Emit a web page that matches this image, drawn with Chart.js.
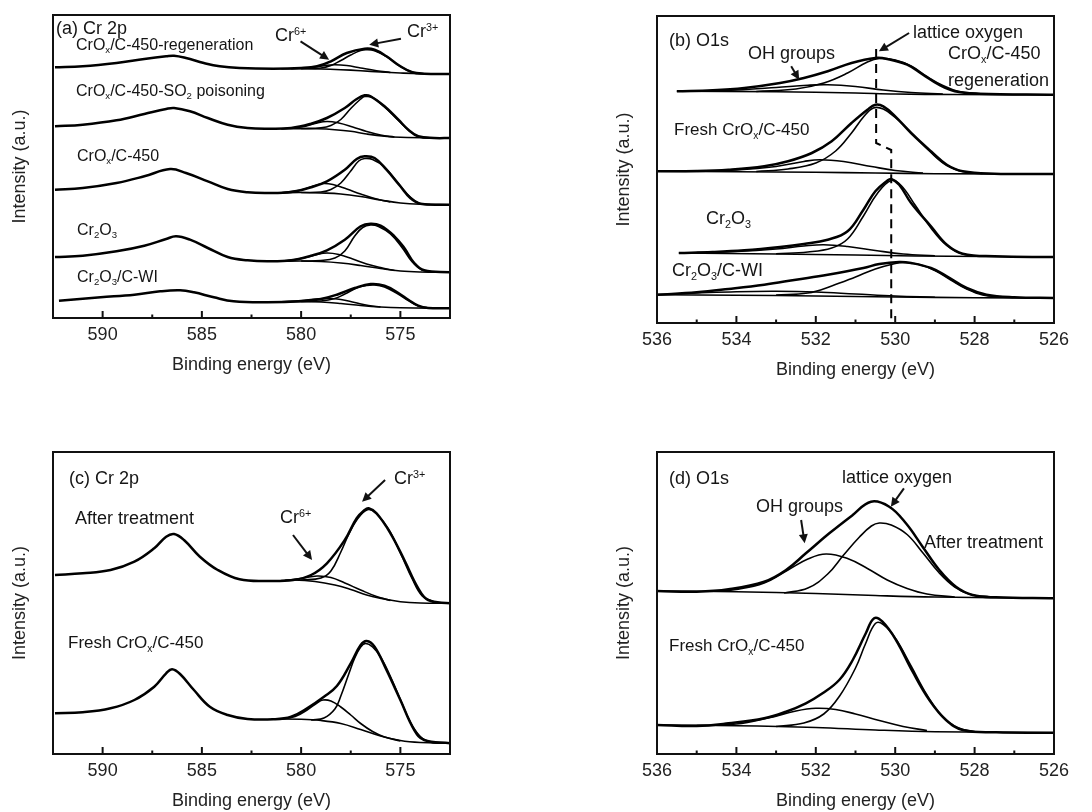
<!DOCTYPE html>
<html>
<head>
<meta charset="utf-8">
<script src="https://cdn.jsdelivr.net/npm/chart.js@4/dist/chart.umd.min.js"></script>
<style>
  body { margin: 0; background: #fff; }
  #page { position: relative; width: 1092px; height: 812px; overflow: hidden; }
  .panel { position: absolute; }
  .lab { position: absolute; font-family: "Liberation Sans", Arial, sans-serif; font-size: 18px; line-height: 1; color: #151515; white-space: nowrap; }
  .s16 { font-size: 16px; }
  .s17 { font-size: 17px; }
  .lab sub { font-size: 0.6em; vertical-align: -0.35em; line-height: 0; }
  .lab sup { font-size: 0.6em; vertical-align: 0.6em; line-height: 0; }
</style>
</head>
<body>
<div id="page">
  <div class="panel" style="left:0;top:0;width:546px;height:400px"><canvas id="chartA"></canvas></div>
  <div class="panel" style="left:546px;top:0;width:546px;height:400px"><canvas id="chartB"></canvas></div>
  <div class="panel" style="left:0;top:400px;width:546px;height:412px"><canvas id="chartC"></canvas></div>
  <div class="panel" style="left:546px;top:400px;width:546px;height:412px"><canvas id="chartD"></canvas></div>

  <!-- (a) -->
  <div class="lab" style="left:56px;top:19px">(a) Cr 2p</div>
  <div class="lab s16" style="left:76px;top:37px">CrO<sub>x</sub>/C-450-regeneration</div>
  <div class="lab" style="left:275px;top:26px">Cr<sup>6+</sup></div>
  <div class="lab" style="left:407px;top:22px">Cr<sup>3+</sup></div>
  <div class="lab s16" style="left:76px;top:83px">CrO<sub>x</sub>/C-450-SO<sub>2</sub> poisoning</div>
  <div class="lab s16" style="left:77px;top:148px">CrO<sub>x</sub>/C-450</div>
  <div class="lab s16" style="left:77px;top:222px">Cr<sub>2</sub>O<sub>3</sub></div>
  <div class="lab s16" style="left:77px;top:269px">Cr<sub>2</sub>O<sub>3</sub>/C-WI</div>

  <!-- (b) -->
  <div class="lab" style="left:669px;top:31px">(b) O1s</div>
  <div class="lab" style="left:748px;top:44px">OH groups</div>
  <div class="lab" style="left:913px;top:23px">lattice oxygen</div>
  <div class="lab" style="left:948px;top:44px">CrO<sub>x</sub>/C-450</div>
  <div class="lab" style="left:948px;top:71px">regeneration</div>
  <div class="lab s17" style="left:674px;top:121px">Fresh CrO<sub>x</sub>/C-450</div>
  <div class="lab" style="left:706px;top:209px">Cr<sub>2</sub>O<sub>3</sub></div>
  <div class="lab" style="left:672px;top:261px">Cr<sub>2</sub>O<sub>3</sub>/C-WI</div>

  <!-- (c) -->
  <div class="lab" style="left:69px;top:469px">(c) Cr 2p</div>
  <div class="lab" style="left:75px;top:509px">After treatment</div>
  <div class="lab" style="left:280px;top:508px">Cr<sup>6+</sup></div>
  <div class="lab" style="left:394px;top:469px">Cr<sup>3+</sup></div>
  <div class="lab s17" style="left:68px;top:634px">Fresh CrO<sub>x</sub>/C-450</div>

  <!-- (d) -->
  <div class="lab" style="left:669px;top:469px">(d) O1s</div>
  <div class="lab" style="left:842px;top:468px">lattice oxygen</div>
  <div class="lab" style="left:756px;top:497px">OH groups</div>
  <div class="lab" style="left:924px;top:533px">After treatment</div>
  <div class="lab s17" style="left:669px;top:637px">Fresh CrO<sub>x</sub>/C-450</div>
</div>

<script>
// ---- (a) Cr 2p, five samples: [binding energy eV, intensity a.u.]
let aRegen = [[592.4,250.7],[591,251.7],[589.3,255],[587.9,259],[586.8,261.7],[586.4,262.3],[585.8,260],[584.9,255],[584.1,251.7],[583.1,250],[581.4,249.3],[580,250],[579.2,251.7],[578.5,256.7],[577.7,265],[576.8,269.3],[576.3,268.3],[575.7,261.7],[575,251.7],[574.4,245.7],[573.8,244.3],[572.5,244]];
let aRegenBg = [[581,249.3],[580,249.3],[579,249],[578,248.3],[577,247.3],[576,246],[575,245],[574,244.3],[572.5,244]];
let aRegenCr6 = [[580.5,249.3],[579.5,250.5],[578.8,252.5],[578.3,253.3],[577.7,252.5],[577,250],[576.2,247.3],[575.5,245.5]];
let aRegenCr3 = [[580,249.4],[579,250],[578.5,252.5],[578,257.5],[577.5,263],[577,267.5],[576.7,268.2],[576.3,267.2],[575.7,261.5],[575,251.5],[574.4,245.8],[573.8,244.3]];

let aPoison = [[592.4,191.7],[591,193.3],[589.3,197.7],[587.9,204],[586.8,209],[586.4,210],[585.6,206.7],[584.7,200],[583.7,193.3],[582.7,190],[581.7,189.3],[580.5,190],[579.5,194.3],[578.7,200],[577.8,210],[577.2,219],[576.8,222.7],[576.5,221.7],[575.8,211.7],[575.1,198.3],[574.6,188.3],[574.1,181.7],[573.3,180],[572.5,180]];
let aPoisonBg = [[581,189.3],[580,189.3],[579.2,189.2],[578.3,188.3],[577.5,186.7],[576.7,184],[575.8,181.7],[575,180.7],[572.5,180]];
let aPoisonCr6 = [[581,189.3],[580,191],[579.3,194.5],[578.7,196.5],[578.1,195],[577.4,191],[576.7,186.5],[576,183],[575.3,181]];
let aPoisonCr3 = [[580,189.5],[579,190.2],[578.5,192.5],[578,198.5],[577.5,209.5],[577,219],[576.8,221.5],[576.4,220.5],[575.8,211],[575.1,197.5],[574.6,188],[574.1,181.5],[573.5,180.2]];

let aFresh = [[592.4,128.3],[591,130],[589.3,135],[587.9,141.7],[586.6,149],[585.8,145],[584.7,136.7],[583.7,129],[582.7,125.7],[581.7,125],[580.5,126],[579.5,130.7],[578.7,136.7],[577.8,148.3],[577.2,159],[576.8,161.7],[576.3,160],[575.7,148.3],[575,131.7],[574.5,120],[574,114.3],[572.5,113.3]];
let aFreshBg = [[581,125.3],[580,125.5],[579,125],[578,124],[577,121.5],[576,118],[575,115],[574,113.7],[572.5,113.3]];
let aFreshCr6 = [[581,125.3],[580,128],[579.3,132.5],[578.9,134.5],[578.4,133.5],[577.7,129],[577,124],[576.2,119],[575.5,116]];
let aFreshCr3 = [[580,125.5],[579,126],[578.5,128.5],[578,135],[577.5,147],[577.1,157],[576.8,159.5],[576.4,158.5],[575.8,151],[575.1,134.5],[574.5,121],[574,114.5],[573.5,113.5]];

let aCr2O3 = [[592.4,61],[591,62.3],[589.3,66.7],[587.9,72.3],[586.8,79],[586.3,81.7],[585.6,78.3],[584.7,70],[583.7,61],[582.7,57.7],[581.7,56.7],[580.5,57.7],[579.5,62.3],[578.7,67.7],[577.8,78.3],[577,91.7],[576.5,94.3],[576,92.3],[575.3,81.7],[574.8,70],[574.3,55],[573.8,47.7],[572.5,45.7]];
let aCr2O3Bg = [[581,56.7],[580,57],[579,56.5],[578,55],[577,52.5],[576,49.5],[575,47],[574,46],[572.5,45.7]];
let aCr2O3Cr6 = [[581,56.8],[580,59.5],[579.3,63],[578.7,65],[578.1,63.5],[577.4,59],[576.7,54],[576,50.5],[575.3,47.5]];
let aCr2O3Cr3 = [[580,57],[579,57.5],[578.3,60],[577.8,67],[577.3,82],[576.9,90.5],[576.5,93],[576.1,91.5],[575.5,84],[574.9,70],[574.4,56],[573.9,48],[573.3,46]];

let aWI = [[592.2,17.3],[590.1,20.7],[588.4,23.3],[587.1,26.7],[586.1,27.7],[585.4,25.7],[584.4,20.7],[583.4,16.7],[581.7,15.7],[580,16.7],[579,19],[578.2,23.3],[577.3,30],[576.5,34],[575.8,32.3],[575.1,25],[574.6,18.3],[574.1,12.3],[573.6,10],[572.5,9.7]];
let aWIBg = [[581,16],[580,16.5],[579,16],[578,14.5],[577,12.5],[576,11],[575,10.2],[572.5,9.7]];
let aWICr6 = [[581,16.1],[580,17.5],[579.2,19],[578.6,19.5],[578,18.5],[577.3,15.5],[576.6,12.5],[576,11]];
let aWICr3 = [[580,16.5],[579,17],[578.3,19.5],[577.8,24],[577.2,30],[576.7,32.5],[576.3,33],[575.8,31],[575.2,25],[574.6,17.5],[574.1,12],[573.6,10]];

// ---- (b) O1s, four samples
let bRegen = [[535.5,231.7],[534.6,232.7],[533.8,235],[532.9,240],[532.3,245],[531.7,251.7],[531.1,260],[530.5,265],[530.2,264],[529.7,258.3],[529.3,248.3],[528.9,238.3],[528.5,231.7],[527.9,229.3],[526,228.3]];
let bRegenBg = [[535.5,231.7],[533,231.3],[531,230],[530,229],[528.5,228.5],[526,228.3]];
let bRegenOH = [[535,231.8],[534,233],[533,235.5],[532.2,237.8],[531.7,238.3],[531,236.5],[530.3,233],[529.6,230.5],[528.8,229]];
let bRegenLat = [[533.5,231.5],[532.5,234],[531.8,240],[531.2,250],[530.7,261],[530.4,264.5],[530,263],[529.6,257],[529.2,246.5],[528.8,237.5],[528.4,231.5],[527.8,229]];

let bFresh = [[536,151.7],[535,152],[534.2,153.3],[533.3,156.7],[532.7,161.7],[532.1,170],[531.6,181.7],[531.1,200],[530.7,213.3],[530.5,218.3],[530.3,216.7],[530,206.7],[529.6,190],[529.1,171.7],[528.7,158.3],[528.3,151.7],[527.5,149.3],[526,149]];
let bFreshBg = [[536,151.7],[534,151.3],[532,150.7],[530.5,150],[529,149.3],[526,149]];
let bFreshOH = [[535,152],[534,153],[533,156.5],[532.3,161.5],[531.9,163.3],[531.3,161.5],[530.6,156.5],[530,152.5],[529.3,150]];
let bFreshLat = [[533.5,151.5],[532.7,154],[532,160],[531.5,172],[531.1,190],[530.8,206],[530.55,215],[530.3,214],[530,205.5],[529.6,190.5],[529.1,170.5],[528.7,157.5],[528.3,151.5],[527.8,149.5]];

let bCr2O3 = [[535.45,70],[534.6,71],[533.8,72.7],[532.9,76],[532.3,79],[531.7,83.3],[531.2,91.7],[530.8,113.3],[530.5,131.7],[530.2,142.3],[530.1,144],[529.9,138.3],[529.6,120],[529.1,96.7],[528.7,78.3],[528.3,69.3],[527.5,66.7],[526,66]];
let bCr2O3Bg = [[535.45,70],[533,69],[531,68],[529.5,67],[526,66]];
let bCr2O3OH = [[535,70.5],[534,71.5],[533,74],[532.3,77],[531.8,78.3],[531.2,76.5],[530.5,72.5],[529.8,69],[529,67.3]];
let bCr2O3Lat = [[533,69.3],[532.2,71],[531.6,75],[531.2,84],[530.8,107],[530.45,129.5],[530.1,142.5],[529.85,137.5],[529.5,118],[529.1,95],[528.7,77.5],[528.3,69],[527.8,66.7]];

let bWI = [[536,28.3],[535,30.7],[534.2,34],[533.3,38.3],[532.5,43.3],[531.7,48.3],[530.8,55],[530.4,59],[529.9,61],[529.6,60],[529.1,55],[528.7,46.7],[528.2,35],[527.7,28.3],[527,25.7],[526,25]];
let bWIBg = [[536,28.3],[534,27.8],[532,27],[530,26],[528,25.3],[526,25]];
let bWIOH = [[536,28.5],[535,30],[534,31.3],[533,31.7],[532,31],[531,29],[530,27],[529,25.8]];
let bWILat = [[533,28],[532.2,30],[531.6,37],[531,46],[530.5,54],[530,59.5],[529.8,60.5],[529.4,58.5],[529,52.5],[528.6,43],[528.2,34],[527.8,28],[527.3,26]];

// peak position guide (dashed)
let bGuide = [[530.48,274],[530.48,180],[530.1,173],[530.1,0]];

// ---- (c) Cr 2p, after treatment vs fresh
let cAfter = [[592.4,179],[591,180.7],[589.6,184],[588.4,192.3],[587.4,205.7],[586.8,217.3],[586.4,220],[585.9,214],[585.1,197.3],[584.2,184],[583.1,174.7],[581.7,173],[580.4,174],[579.5,179],[578.7,190.7],[577.8,214],[577.2,235.7],[576.8,244],[576.6,245.7],[576.2,240.7],[575.5,220.7],[574.8,194],[574.1,165.7],[573.6,154],[572.5,150.7]];
let cAfterBg = [[581,173.5],[580.4,174],[579.3,172.5],[578.3,169],[577.5,164.5],[576.7,159],[575.8,155],[575,152.3],[574,151],[572.5,150.7]];
let cAfterCr6 = [[580.8,173.6],[580,175.5],[579.2,178],[578.5,176.5],[577.8,171],[577,164],[576.2,157.5],[575.5,153.5]];
let cAfterCr3 = [[580,174],[579,176],[578.5,183],[578,202],[577.5,224],[577,239],[576.6,244.5],[576.2,240],[575.6,225],[575,201],[574.4,175],[573.9,158],[573.3,152]];

let cFresh = [[592.4,40.7],[591,41.7],[589.6,45.7],[588.4,54],[587.4,67.3],[586.8,80.7],[586.5,84.7],[586.1,80],[585.4,64],[584.6,47.3],[583.7,39],[582.7,35],[581.4,34.7],[580.5,37.3],[579.7,45.7],[578.85,57.3],[578.2,68],[577.5,90.7],[577,109],[576.7,113],[576.3,107.3],[575.7,84],[575,54],[574.3,24],[573.8,14],[572.5,10.7]];
let cFreshBg = [[581.5,35],[580,34.7],[579,33.5],[578,30.5],[577,24.5],[576,18],[575,13.5],[574,11.5],[572.5,10.7]];
let cFreshCr6 = [[581,35],[580.3,37.5],[579.7,44],[579.2,51],[578.9,54],[578.5,53],[578,47],[577.5,39],[577,30.5],[576.4,22.5],[575.8,17],[575,13]];
let cFreshCr3 = [[579.5,34],[578.85,36],[578.3,45],[578,58],[577.6,80],[577.3,96],[577,107],[576.75,110.5],[576.4,107],[576,97],[575.5,77.5],[575,54.5],[574.5,32],[574,17.5],[573.5,12],[573,10.8]];

// ---- (d) O1s, after treatment vs fresh
let dAfter = [[536,163],[535,162.3],[534.2,164.7],[533.3,172.3],[532.75,184],[532.25,200.7],[531.66,220.7],[531.07,239],[530.61,252.3],[530.15,247.3],[529.73,230.7],[529.31,207.3],[528.89,184],[528.47,167.3],[528.05,159],[527.46,156.7],[526,155.7]];
let dAfterBg = [[536,163],[534,162.3],[532,160.5],[530.5,158.5],[529,157],[526,155.7]];
let dAfterOH = [[534.5,163],[534,164.5],[533.3,171],[532.7,184],[532.2,195],[531.74,200],[531.2,195.5],[530.7,185.5],[530.2,174],[529.7,165.5],[529.2,160],[528.5,157]];
let dAfterLat = [[532.8,161],[532.2,166],[531.7,180],[531.3,199],[530.9,217],[530.6,228],[530.4,231],[530.1,229],[529.7,219.5],[529.3,201],[528.9,181.5],[528.5,167],[528.1,159.5],[527.6,157]];

let dFresh = [[536,29],[535,28],[534.2,30.7],[533.3,35.7],[532.75,42.3],[532.25,50.7],[531.83,60.7],[531.41,74],[531.07,94],[530.74,120.7],[530.53,135.7],[530.32,132.3],[529.98,114],[529.56,82.3],[529.14,54],[528.72,34],[528.3,24],[527.46,21.7],[526,21.3]];
let dFreshBg = [[536,29],[534,28.3],[532,26.5],[530.5,24],[529,22.3],[526,21.3]];
let dFreshOH = [[535,28.5],[534,30],[533.2,36],[532.5,43],[532,45.7],[531.5,44.5],[531,40],[530.4,33.5],[529.8,27.5],[529.2,23.5]];
let dFreshLat = [[533,27.5],[532.3,31],[531.8,40],[531.4,58],[531,86],[530.75,110],[530.5,130.5],[530.3,129.5],[530,116],[529.6,88],[529.2,59],[528.8,37],[528.4,26],[528,22.5]];

// arrows: [x tail, y tail, x head, y head] in data units
let aArrows = [[580.03,276.7,578.59,258.3],[574.97,279.3,576.57,273.3]];
let bArrows = [[532.62,256.7,532.42,243.3],[529.65,290,530.41,271.7]];
let cArrows = [[580.41,219,579.45,194],[575.77,274,576.93,252.3]];
let dArrows = [[532.37,234,532.28,210.7],[529.78,265.7,530.11,247.3]];

const FONT = '"Liberation Sans", Arial, sans-serif';

function curve(points, width){
  return {
    data: points.map(p => ({x: p[0], y: p[1]})),
    borderColor: '#000',
    borderWidth: width,
    pointRadius: 0,
    fill: false,
    tension: 0.4
  };
}

// one spectrum = background + two components + measured envelope
function spectrum(raw, bg, c1, c2){
  return [curve(bg, 1.6), curve(c1, 1.6), curve(c2, 1.6), curve(raw, 2.5)];
}

const framePlugin = {
  id: 'frame',
  afterDatasetsDraw(chart){
    const ctx = chart.ctx;
    const a = chart.chartArea;
    const xs = chart.scales.x;
    const o = chart.options.plugins.frame;
    ctx.save();
    ctx.strokeStyle = '#111';
    ctx.lineWidth = 2;
    // inward ticks on the energy axis
    xs.ticks.forEach(t => {
      if (t.value === xs.min || t.value === xs.max) return;
      const px = xs.getPixelForValue(t.value);
      const major = t.label !== '';
      ctx.beginPath();
      ctx.moveTo(px, a.bottom);
      ctx.lineTo(px, a.bottom - (major ? 7 : 3.5));
      ctx.stroke();
    });
    ctx.strokeRect(a.left, a.top, a.right - a.left, a.bottom - a.top);
    // annotation arrows
    const ys = chart.scales.y;
    ctx.fillStyle = '#111';
    (o.arrows || []).forEach(ar => {
      const x1 = xs.getPixelForValue(ar[0]), y1 = ys.getPixelForValue(ar[1]);
      const x2 = xs.getPixelForValue(ar[2]), y2 = ys.getPixelForValue(ar[3]);
      const ang = Math.atan2(y2 - y1, x2 - x1);
      const hl = 9, hw = 4.5;
      ctx.beginPath();
      ctx.moveTo(x1, y1);
      ctx.lineTo(x2 - hl * 0.8 * Math.cos(ang), y2 - hl * 0.8 * Math.sin(ang));
      ctx.stroke();
      ctx.beginPath();
      ctx.moveTo(x2, y2);
      ctx.lineTo(x2 - hl * Math.cos(ang) + hw * Math.sin(ang), y2 - hl * Math.sin(ang) - hw * Math.cos(ang));
      ctx.lineTo(x2 - hl * Math.cos(ang) - hw * Math.sin(ang), y2 - hl * Math.sin(ang) + hw * Math.cos(ang));
      ctx.closePath();
      ctx.fill();
    });
    ctx.restore();
  }
};

function load_panel(id, xmin, xmax, step, labelStep, ymax, datasets, arrows, pad){
  new Chart(document.getElementById(id), {
    type: 'line',
    data: { datasets: datasets },
    options: {
      responsive: true,
      maintainAspectRatio: false,
      animation: false,
      layout: { padding: pad },
      plugins: {
        legend: { display: false },
        tooltip: { enabled: false },
        frame: { arrows: arrows }
      },
      scales: {
        x: {
          type: 'linear',
          reverse: true,
          min: xmin,
          max: xmax,
          grid: { display: false, drawTicks: false },
          border: { display: false },
          ticks: {
            stepSize: step,
            autoSkip: false,
            maxRotation: 0,
            padding: 6,
            color: '#222',
            font: { family: FONT, size: 18 },
            callback: v => (Math.abs(v / labelStep - Math.round(v / labelStep)) < 1e-6 ? String(Math.round(v)) : '')
          },
          title: {
            display: true,
            text: 'Binding energy (eV)',
            color: '#222',
            font: { family: FONT, size: 18 },
            padding: { top: 0, bottom: 0 }
          },
          afterFit: s => { s.height = 58; }
        },
        y: {
          min: 0,
          max: ymax,
          grid: { display: false, drawTicks: false },
          border: { display: false },
          ticks: { display: false },
          title: {
            display: true,
            text: 'Intensity (a.u.)',
            color: '#222',
            font: { family: FONT, size: 18 },
            padding: { top: 9, bottom: 0 }
          },
          afterFit: s => { s.width = 53; }
        }
      }
    },
    plugins: [framePlugin]
  });
}

let dsA = [].concat(
  spectrum(aRegen, aRegenBg, aRegenCr6, aRegenCr3),
  spectrum(aPoison, aPoisonBg, aPoisonCr6, aPoisonCr3),
  spectrum(aFresh, aFreshBg, aFreshCr6, aFreshCr3),
  spectrum(aCr2O3, aCr2O3Bg, aCr2O3Cr6, aCr2O3Cr3),
  spectrum(aWI, aWIBg, aWICr6, aWICr3)
);

let guide = curve(bGuide, 2);
guide.borderDash = [9, 6];
guide.tension = 0;

let dsB = [].concat(
  spectrum(bRegen, bRegenBg, bRegenOH, bRegenLat),
  spectrum(bFresh, bFreshBg, bFreshOH, bFreshLat),
  spectrum(bCr2O3, bCr2O3Bg, bCr2O3OH, bCr2O3Lat),
  spectrum(bWI, bWIBg, bWIOH, bWILat),
  [guide]
);

let dsC = [].concat(
  spectrum(cAfter, cAfterBg, cAfterCr6, cAfterCr3),
  spectrum(cFresh, cFreshBg, cFreshCr6, cFreshCr3)
);

let dsD = [].concat(
  spectrum(dAfter, dAfterBg, dAfterOH, dAfterLat),
  spectrum(dFresh, dFreshBg, dFreshOH, dFreshLat)
);

load_panel('chartA', 572.5, 592.5, 2.5, 5, 303, dsA, aArrows, {left: 0, right: 96, top: 15, bottom: 24});
load_panel('chartB', 526, 536, 1, 2, 307, dsB, bArrows, {left: 58, right: 38, top: 16, bottom: 19});
load_panel('chartC', 572.5, 592.5, 2.5, 5, 302, dsC, cArrows, {left: 0, right: 96, top: 52, bottom: 0});
load_panel('chartD', 526, 536, 1, 2, 302, dsD, dArrows, {left: 58, right: 38, top: 52, bottom: 0});
</script>
</body>
</html>
